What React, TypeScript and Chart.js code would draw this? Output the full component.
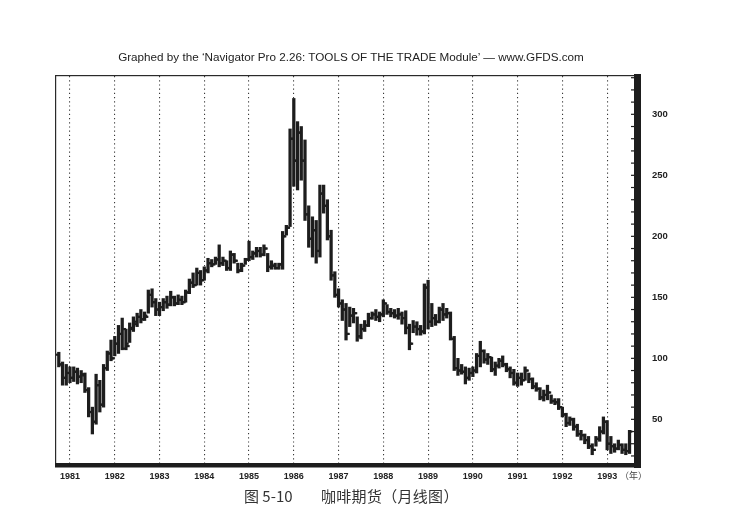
import { useEffect, useRef } from "react";
import { Chart, registerables } from "chart.js";

Chart.register(...registerables);

// Monthly coffee futures, first bar = Oct 1980 (month index relative to Jan 1981)
const FIRST_MONTH_OFFSET = -3;
const YEAR_LABELS = ["1981", "1982", "1983", "1984", "1985", "1986", "1987", "1988", "1989", "1990", "1991", "1992", "1993"];
const Y_TICKS = [50, 100, 150, 200, 250, 300];
const TITLE = "Graphed by the \u2018Navigator Pro 2.26: TOOLS OF THE TRADE Module\u2019 \u2014 www.GFDS.com";

const OPEN = [
  103, 95, 84,
  88, 84, 89, 85, 86, 74, 56, 48, 78, 62, 92, 104,
  100, 112, 120, 124, 110, 124, 128, 134, 132, 134, 152, 146,
  140, 142, 146, 144, 150, 145, 148, 146, 154, 162, 160, 170,
  164, 172, 178, 177, 181, 178, 180, 174, 185, 180, 172, 176,
  181, 183, 186, 188, 185, 190, 175, 176, 174, 177, 200, 207,
  280, 262, 285, 262, 218, 198, 205, 188, 235, 225, 200, 168,
  152, 145, 140, 120, 135, 137, 118, 124, 127, 133, 136, 134,
  136, 145, 138, 137, 135, 136, 133, 125, 112, 126, 124, 122,
  158, 130, 133, 130, 140, 136, 137, 116, 92, 90, 89, 84,
  88, 90, 102, 106, 99, 101, 91, 94, 98, 95, 91, 88,
  80, 84, 82, 90, 83, 77, 75, 68, 70, 72, 65, 64,
  60, 54, 47, 50, 44, 38, 37, 33, 28, 25, 34, 40,
  48, 30, 28, 26, 29, 25, 24,
];
const HIGH = [
  105, 97, 95,
  93, 93, 92, 90, 88, 76, 60, 87, 82, 95, 106, 115,
  118, 127, 133, 124, 129, 134, 137, 140, 138, 156, 157, 149,
  146, 149, 151, 155, 151, 152, 151, 156, 165, 170, 174, 172,
  175, 182, 181, 183, 193, 183, 180, 188, 186, 178, 178, 182,
  196, 188, 191, 191, 193, 186, 180, 178, 178, 204, 209, 288,
  313, 294, 290, 279, 225, 216, 213, 242, 242, 230, 205, 171,
  157, 148, 145, 142, 141, 134, 128, 131, 137, 138, 140, 138,
  148, 144, 141, 140, 141, 138, 139, 128, 131, 130, 127, 161,
  164, 145, 136, 142, 145, 141, 138, 118, 100, 95, 93, 92,
  93, 104, 114, 107, 104, 101, 97, 100, 102, 96, 93, 91,
  88, 88, 93, 88, 84, 80, 76, 74, 78, 70, 67, 67,
  60, 55, 52, 51, 46, 41, 38, 36, 30, 36, 44, 52,
  49, 36, 30, 33, 30, 30, 41,
];
const LOW = [
  93, 78, 78,
  80, 81, 79, 80, 72, 52, 38, 46, 56, 60, 90, 98,
  102, 104, 107, 107, 113, 122, 126, 129, 131, 137, 142, 135,
  135, 139, 141, 143, 143, 144, 144, 146, 153, 158, 160, 160,
  164, 170, 175, 177, 175, 176, 172, 172, 178, 170, 171, 177,
  180, 181, 183, 183, 184, 171, 173, 173, 173, 173, 201, 208,
  241, 238, 246, 213, 191, 183, 178, 183, 219, 197, 164, 150,
  142, 131, 115, 126, 129, 114, 116, 122, 126, 132, 131, 130,
  134, 136, 134, 133, 132, 128, 120, 107, 121, 119, 119, 120,
  124, 126, 127, 129, 131, 133, 115, 90, 86, 87, 79, 82,
  85, 88, 93, 96, 95, 89, 86, 92, 93, 89, 84, 78,
  77, 78, 82, 80, 75, 73, 66, 65, 66, 63, 62, 58,
  52, 44, 45, 41, 36, 33, 30, 26, 21, 28, 32, 38,
  25, 22, 23, 25, 22, 21, 22,
];
const CLOSE = [
  95, 84, 88,
  84, 89, 85, 87, 74, 56, 48, 78, 62, 92, 104, 100,
  112, 120, 108, 112, 125, 130, 134, 132, 135, 152, 146, 140,
  142, 146, 144, 150, 145, 148, 146, 154, 162, 160, 170, 164,
  172, 178, 177, 181, 178, 180, 174, 185, 180, 172, 176, 181,
  183, 186, 188, 185, 190, 175, 176, 174, 177, 200, 207, 280,
  262, 285, 262, 218, 198, 205, 188, 235, 225, 200, 168, 152,
  145, 140, 120, 135, 137, 118, 124, 127, 133, 136, 134, 136,
  145, 138, 137, 135, 136, 133, 125, 112, 126, 124, 122, 158,
  130, 133, 130, 140, 136, 137, 116, 92, 90, 89, 84, 88,
  90, 102, 106, 99, 101, 91, 94, 98, 95, 91, 88, 80,
  84, 82, 90, 83, 77, 75, 68, 70, 72, 65, 64, 60,
  54, 47, 50, 44, 38, 37, 33, 28, 25, 34, 40, 48,
  30, 28, 26, 29, 25, 24, 40,
];

const INK = "#1d1d1d";

const framePlugin = {
  id: "bookFrame",
  afterDatasetsDraw(chart: any) {
    const { ctx, chartArea, scales } = chart;
    const { left, right, top, bottom } = chartArea;
    const y = scales.y;
    ctx.save();
    ctx.fillStyle = "#2a2a2a";
    ctx.fillRect(left - 1, top - 1, 1.2, bottom - top + 1);
    ctx.fillRect(left - 1, top - 1, right - left + 1, 1.2);
    ctx.fillStyle = INK;
    ctx.fillRect(right, top - 2, 7, bottom - top + 6);
    ctx.fillRect(left - 1, bottom - 1, right - left + 8, 4.5);
    for (let v = 20; v < y.max; v += 10) {
      const py = y.getPixelForValue(v);
      ctx.fillRect(right - 3, py - 0.6, 3, 1.2);
    }
    ctx.restore();
  },
};

export default function App() {
  const ref = useRef<HTMLCanvasElement | null>(null);

  useEffect(() => {
    if (!ref.current) return;
    const idx = (i: number) => i + FIRST_MONTH_OFFSET;
    const tickStyle = {
      type: "line",
      showLine: false,
      pointStyle: "line",
      pointRadius: 1.4,
      pointBorderWidth: 2.2,
      pointBorderColor: INK,
      pointBackgroundColor: INK,
      pointHoverRadius: 0,
    };
    const chart = new Chart(ref.current, {
      type: "bar",
      data: {
        datasets: [
          {
            type: "bar",
            data: HIGH.map((h, i) => ({ x: idx(i), y: [LOW[i], h] })) as any,
            backgroundColor: INK,
            borderWidth: 0,
            barThickness: 2.6,
            grouped: false,
          } as any,
          { ...tickStyle, data: OPEN.map((o, i) => ({ x: idx(i) - 0.37, y: o })) } as any,
          { ...tickStyle, data: CLOSE.map((c, i) => ({ x: idx(i) + 0.37, y: c })) } as any,
        ],
      },
      options: {
        animation: false,
        responsive: false,
        devicePixelRatio: 1,
        layout: { padding: { left: 56, top: 76, right: 0, bottom: 0 } },
        plugins: { legend: { display: false }, tooltip: { enabled: false }, title: { display: false } },
        scales: {
          x: {
            type: "linear",
            min: -3.75,
            max: 151.2,
            offset: false,
            afterBuildTicks: (s: any) => {
              s.ticks = YEAR_LABELS.map((_, i) => ({ value: i * 12 }));
            },
            afterFit: (s: any) => {
              s.height = 57;
            },
            grid: { display: true, offset: false, drawTicks: false, color: "#3a3a3a", lineWidth: 1.1 },
            border: { display: false, dash: [1.2, 3] },
            ticks: {
              autoSkip: false,
              maxRotation: 0,
              padding: 7,
              color: "#222",
              font: { family: "'Liberation Sans', Arial, sans-serif", size: 9, weight: "bold" },
              callback: (_v: any, i: number) => YEAR_LABELS[i],
            },
          },
          y: {
            type: "linear",
            position: "right",
            min: 13.4,
            max: 331.4,
            afterBuildTicks: (s: any) => {
              s.ticks = Y_TICKS.map((v) => ({ value: v }));
            },
            afterFit: (s: any) => {
              s.width = 117;
            },
            grid: { display: false },
            border: { display: false },
            ticks: {
              padding: 10,
              color: "#222",
              font: { family: "'Liberation Sans', Arial, sans-serif", size: 9.5, weight: "bold" },
              callback: (v: any) => String(v),
            },
          },
        },
      },
      plugins: [framePlugin],
    } as any);
    return () => chart.destroy();
  }, []);

  return (
    <div style={{ position: "absolute", left: 0, top: 0, width: 751, height: 521, background: "#fff", overflow: "hidden" }}>
      <canvas ref={ref} width={751} height={521} style={{ position: "absolute", left: 0, top: 0, width: 751, height: 521 }} />
      <div
        style={{
          position: "absolute",
          left: 0,
          top: 49,
          width: 702,
          textAlign: "center",
          fontFamily: "'Liberation Sans', Arial, sans-serif",
          fontSize: 11.7,
          lineHeight: "16px",
          color: "#222",
          whiteSpace: "nowrap",
        }}
      >
        {TITLE}
      </div>
      <div
        style={{
          position: "absolute",
          left: 620,
          top: 469,
          fontFamily: "'Noto Sans CJK SC', sans-serif",
          fontSize: 9,
          lineHeight: "14px",
          color: "#444",
        }}
      >
        （年）
      </div>
      <div
        style={{
          position: "absolute",
          left: 244,
          top: 486,
          fontFamily: "'Noto Sans CJK SC', sans-serif",
          fontSize: 15,
          lineHeight: "20px",
          color: "#333",
          whiteSpace: "nowrap",
        }}
      >
        图 5-10
      </div>
      <div
        style={{
          position: "absolute",
          left: 321,
          top: 486,
          fontFamily: "'Noto Sans CJK SC', sans-serif",
          fontSize: 15,
          lineHeight: "20px",
          color: "#333",
          whiteSpace: "nowrap",
          letterSpacing: 0.3,
        }}
      >
        咖啡期货（月线图）
      </div>
    </div>
  );
}
